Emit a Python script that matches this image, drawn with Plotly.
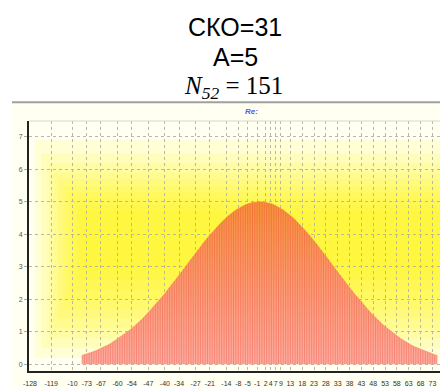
import plotly.graph_objects as go

# ---- data ----
x_values = [-75, -74, -73, -72, -71, -70, -69, -68, -67, -66, -65, -64, -63, -62, -61, -60,
            -59, -58, -57, -56, -55, -54, -53, -52, -51, -50, -49, -48, -47, -46, -45, -44,
            -43, -42, -41, -40, -39, -38, -37, -36, -35, -34, -33, -32, -31, -30, -29, -28,
            -27, -26, -25, -24, -23, -22, -21, -20, -19, -18, -17, -16, -15, -14, -13, -12,
            -11, -10, -9, -8, -7, -6, -5, -4, -3, -2, -1, 0, 1, 2, 3, 4, 5, 6, 7, 8, 9, 10,
            11, 12, 13, 14, 15, 16, 17, 18, 19, 20, 21, 22, 23, 24, 25, 26, 27, 28, 29, 30,
            31, 32, 33, 34, 35, 36, 37, 38, 39, 40, 41, 42, 43, 44, 45, 46, 47, 48, 49, 50,
            51, 52, 53, 54, 55, 56, 57, 58, 59, 60, 61, 62, 63, 64, 65, 66, 67, 68, 69, 70,
            71, 72, 73, 74, 75]
y_values = [0.27, 0.29, 0.31, 0.34, 0.36, 0.39, 0.42, 0.45, 0.48, 0.52, 0.55, 0.59, 0.63, 0.68,
            0.72, 0.77, 0.82, 0.87, 0.92, 0.98, 1.04, 1.10, 1.16, 1.22, 1.29, 1.36, 1.43, 1.51,
            1.58, 1.66, 1.74, 1.83, 1.91, 2.00, 2.09, 2.17, 2.27, 2.36, 2.45, 2.55, 2.64, 2.74,
            2.84, 2.93, 3.03, 3.13, 3.23, 3.33, 3.42, 3.52, 3.61, 3.71, 3.80, 3.89, 3.98, 4.06,
            4.14, 4.22, 4.30, 4.38, 4.45, 4.52, 4.58, 4.64, 4.69, 4.75, 4.79, 4.84, 4.87, 4.91,
            4.94, 4.96, 4.98, 4.99, 5.00,
            5.00,
            5.00, 4.99, 4.98, 4.96, 4.94, 4.91, 4.87, 4.84, 4.79, 4.75, 4.69, 4.64, 4.58, 4.52,
            4.45, 4.38, 4.30, 4.22, 4.14, 4.06, 3.98, 3.89, 3.80, 3.71, 3.61, 3.52, 3.42, 3.33,
            3.23, 3.13, 3.03, 2.93, 2.84, 2.74, 2.64, 2.55, 2.45, 2.36, 2.27, 2.17, 2.09, 2.00,
            1.91, 1.83, 1.74, 1.66, 1.58, 1.51, 1.43, 1.36, 1.29, 1.22, 1.16, 1.10, 1.04, 0.98,
            0.92, 0.87, 0.82, 0.77, 0.72, 0.68, 0.63, 0.59, 0.55, 0.52, 0.48, 0.45, 0.42, 0.39,
            0.36, 0.34, 0.31, 0.29, 0.27]

x_tick_vals = [-97, -88, -79, -73, -67, -60, -54, -47, -40, -34, -27, -21, -14, -9, -5, -1,
               2.6, 4.7, 6.8, 9, 13, 18, 23, 28, 33, 38, 43, 48, 53, 58, 63, 68, 73, 78]
x_tick_text = ["-128", "-119", "-10", "-73", "-67", "-60", "-54", "-47", "-40", "-34", "-27",
               "-21", "-14", "-8", "-5", "-1", "2", "4", "7", "9", "13", "18", "23", "28", "33",
               "38", "43", "48", "53", "58", "63", "68", "73", "78"]
y_tick_vals = [0, 1, 2, 3, 4, 5, 6, 7]

title_lines = ["СКО=31", "A=5"]
formula_text = "<i>N</i><sub><i>52</i></sub> = 151"
series_label = "Re:"

# page body has an 8px margin: the figure is offset by 8px, so size/positions compensate
OFF = 8
W, H = 448 - OFF, 387 - OFF
ML, MR, MT, MB = 29 - OFF, 0, 121 - OFF, 12
PW, PH = W - ML - MR, H - MT - MB


def px_x(p):  # p in screenshot pixels
    return (p - OFF - ML) / PW


def px_y(p):
    return (H - MB - (p - OFF)) / PH


fig = go.Figure()

# gradient-filled area
fig.add_trace(go.Scatter(
    x=x_values, y=y_values, mode="lines",
    line=dict(width=0.6, color="#f78a55"),
    fill="tozeroy",
    fillgradient=dict(type="vertical", start=0, stop=5,
                      colorscale=[[0, "#ffaca2"], [0.45, "#fd9c78"], [1, "#f8923c"]]),
    hoverinfo="skip", showlegend=False,
))

# vertical stripes (one per sample)
sx, sy = [], []
for xv, yv in zip(x_values, y_values):
    sx += [xv, xv, None]
    sy += [0, yv, None]
fig.add_trace(go.Scatter(
    x=sx, y=sy, mode="lines",
    line=dict(width=0.8, color="rgba(228,60,40,0.4)"),
    hoverinfo="skip", showlegend=False,
))

shapes = []
# cream panel
shapes.append(dict(type="rect", xref="paper", yref="paper",
                   x0=px_x(12), x1=px_x(460), y0=px_y(400), y1=px_y(102),
                   fillcolor="#fffff2", line=dict(width=0), layer="below"))
# yellow glow (stacked soft rectangles)
glow = [(-95, 110, 0.2, 6.9), (-92, 105, 0.5, 6.5), (-89, 100, 0.8, 6.2),
        (-87, 96, 1.1, 5.9), (-85, 92, 1.4, 5.7), (-83, 88, 1.7, 5.5),
        (-81, 85, 2.0, 5.3), (-79, 82, 2.3, 5.1), (-77, 80, 2.6, 4.9), (-75, 78, 2.9, 4.7)]
for gx0, gx1, gy0, gy1 in glow:
    shapes.append(dict(type="rect", xref="x", yref="y",
                       x0=gx0, x1=gx1, y0=gy0, y1=gy1,
                       fillcolor="rgba(255,244,0,0.12)", line=dict(width=0),
                       layer="below"))
# panel top border and plot top border
shapes.append(dict(type="line", xref="paper", yref="paper",
                   x0=px_x(12), x1=px_x(460), y0=px_y(102), y1=px_y(102),
                   line=dict(color="#a0a0a0", width=2)))
shapes.append(dict(type="line", xref="paper", yref="paper",
                   x0=0, x1=1, y0=1, y1=1,
                   line=dict(color="#d8d8c8", width=1)))

annotations = []
for i, t in enumerate(title_lines):
    annotations.append(dict(text=t, xref="paper", yref="paper",
                            x=px_x(235), y=px_y(25 + 31 * i), showarrow=False,
                            xanchor="center", yanchor="middle",
                            font=dict(family="Liberation Sans, Arial", size=25, color="#000")))
annotations.append(dict(text=formula_text, xref="paper", yref="paper",
                        x=px_x(233), y=px_y(87), showarrow=False,
                        xanchor="center", yanchor="middle",
                        font=dict(family="Liberation Serif, DejaVu Serif", size=25, color="#000")))
annotations.append(dict(text="<b><i>" + series_label + "</i></b>", xref="paper", yref="paper",
                        x=px_x(251), y=px_y(111), showarrow=False,
                        xanchor="center", yanchor="middle",
                        font=dict(family="Liberation Sans, Arial", size=8, color="#5060e8")))

fig.update_layout(
    width=W, height=H,
    margin=dict(l=ML, r=MR, t=MT, b=MB, pad=0),
    paper_bgcolor="white",
    plot_bgcolor="rgba(0,0,0,0)",
    shapes=shapes,
    annotations=annotations,
    showlegend=False,
)
fig.update_xaxes(
    range=[-97.4, 79.6], tickmode="array", tickvals=x_tick_vals, ticktext=x_tick_text,
    showgrid=True, gridcolor="#b8b8a4", griddash="dot", gridwidth=1,
    zeroline=False, showline=True, linecolor="#222", linewidth=2,
    ticks="", tickfont=dict(family="Liberation Sans, Arial", size=7, color="#333"),
    tickangle=0, ticklabelstandoff=5,
)
fig.update_yaxes(
    range=[-0.21, 7.49], tickmode="array", tickvals=y_tick_vals,
    showgrid=True, gridcolor="#b8b8a4", griddash="dot", gridwidth=1,
    zeroline=False, showline=True, linecolor="#222", linewidth=2,
    ticks="outside", ticklen=3, tickcolor="#aaa",
    tickfont=dict(family="Liberation Sans, Arial", size=7, color="#555"),
)

fig.write_html("out.html")
